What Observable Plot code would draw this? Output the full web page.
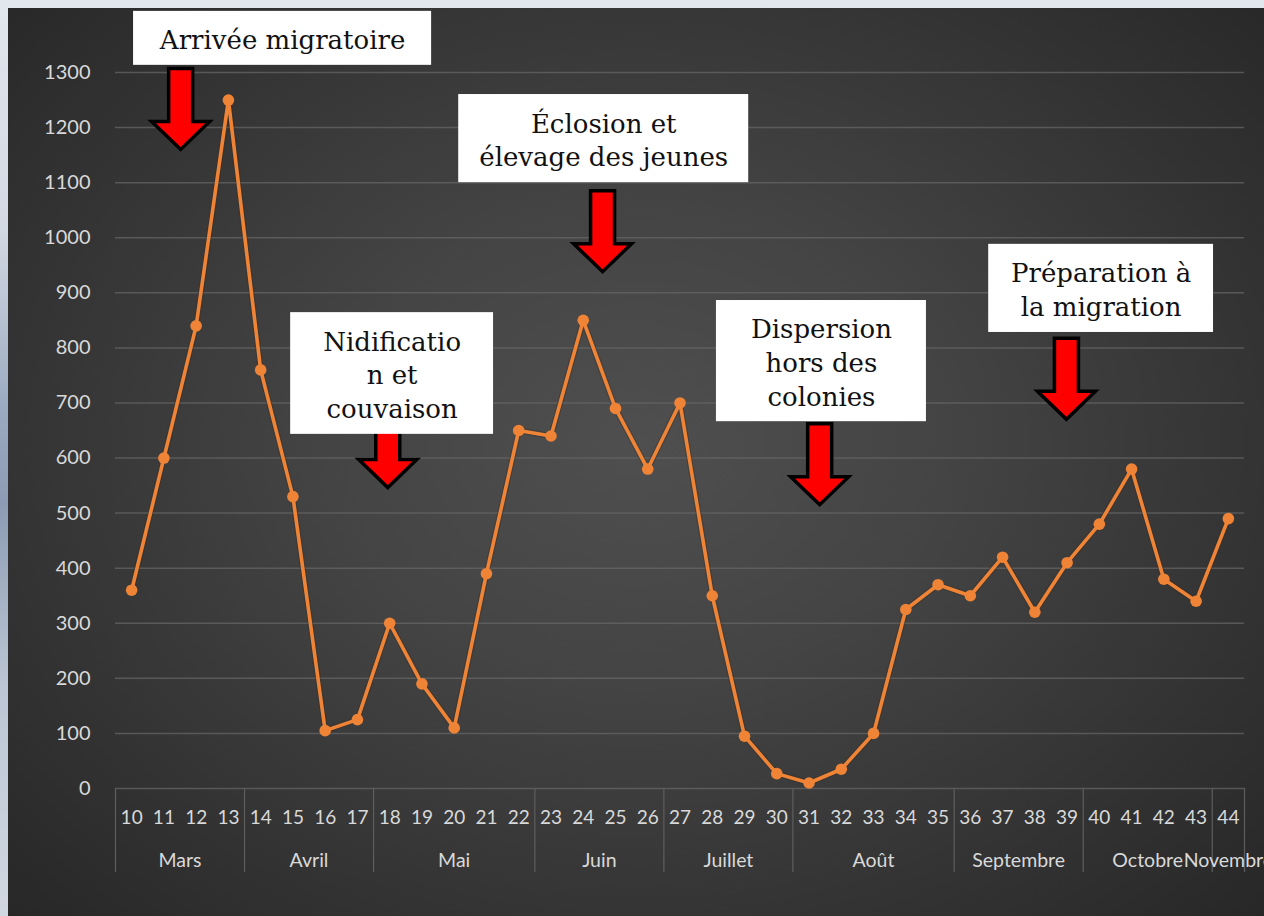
<!DOCTYPE html>
<html>
<head>
<meta charset="utf-8">
<script src="https://cdn.jsdelivr.net/npm/d3@7"></script>
<script src="https://cdn.jsdelivr.net/npm/@observablehq/plot@0.6"></script>
<style>
  html, body { margin: 0; padding: 0; width: 1264px; height: 916px; overflow: hidden; }
  body { background: linear-gradient(180deg, #e2e6ed 0%, #d3d9e3 25%, #9aa9c0 45%, #8d9cb4 55%, #bcc6d4 75%, #d0d7e1 100%); position: relative; }
  #panel { position: absolute; left: 8px; top: 8px; right: 0; bottom: 0;
    background: radial-gradient(ellipse 70% 75% at 50% 48%, #4f4f4f 0%, #444 35%, #343434 70%, #272727 100%); }
  #chart { position: absolute; left: 0; top: 0; }
</style>
</head>
<body>
<div id="panel"></div>
<div id="chart"></div>
<script>
// ---- data ----
const weeks  = [10,11,12,13,14,15,16,17,18,19,20,21,22,23,24,25,26,27,28,29,30,31,32,33,34,35,36,37,38,39,40,41,42,43,44];
const counts = [360,600,840,1250,760,530,105,125,300,190,110,390,650,640,850,690,580,700,350,95,27,10,35,100,325,370,350,420,320,410,480,580,380,340,490];
const yTicks = [0,100,200,300,400,500,600,700,800,900,1000,1100,1200,1300];
const monthNames = ["Mars","Avril","Mai","Juin","Juillet","Août","Septembre","Octobre","Novembre"];
const monthStart = [10,14,18,23,27,31,36,40,44];
const monthEnd   = [13,17,22,26,30,35,39,43,44];

// annotations (boxes in week/value units)
const annLabels = ["Arrivée migratoire", "Éclosion et\nélevage des jeunes", "Nidificatio\nn et\ncouvaison", "Dispersion\nhors des\ncolonies", "Préparation à\nla migration"];
const annX1 = [10.06, 20.14, 14.93, 28.13, 36.57];
const annX2 = [19.30, 29.13, 21.22, 34.64, 43.54];
const annY1 = [1313, 1100, 643, 666, 828];
const annY2 = [1411, 1260, 864, 886, 988];
const arrowWeek  = [11.52, 24.60, 17.94, 31.33, 38.98];
const arrowValue = [1233, 1011, 619, 588, 743];

// ---- derived tables ----
const series = weeks.map((w, i) => ({week: w, count: counts[i]}));
const months = monthNames.map((m, i) => ({name: m, mid: (monthStart[i] + monthEnd[i]) / 2}));
const bounds = monthStart.map(s => s - 0.5).concat([monthEnd[monthEnd.length - 1] + 0.5]);
const anns = annLabels.map((t, i) => ({label: t, x1: annX1[i], x2: annX2[i], y1: annY1[i], y2: annY2[i]}));
const arrows = arrowWeek.map((w, i) => ({week: w, value: arrowValue[i]}));

const W = 1264, H = 916, mT = 72, mB = 128, mL = 115, mR = 20;
const unitsPerPx = 1300 / (H - mT - mB);
const sepDepth = -84 * unitsPerPx;

const arrowSymbol = {
  draw(ctx) {
    ctx.moveTo(-12, -41);
    ctx.lineTo(12, -41);
    ctx.lineTo(12, 12);
    ctx.lineTo(29, 12);
    ctx.lineTo(0, 40);
    ctx.lineTo(-29, 12);
    ctx.lineTo(-12, 12);
    ctx.closePath();
  }
};

const lbl = "#d9d9d9";
const chart = Plot.plot({
  width: W, height: H,
  marginTop: mT, marginBottom: mB, marginLeft: mL, marginRight: mR,
  style: {background: "transparent", fontFamily: "Lato, 'Open Sans', sans-serif"},
  x: {type: "linear", domain: [9.5, 44.5], axis: null},
  y: {domain: [0, 1300], axis: null},
  marks: [
    Plot.ruleY(yTicks, {stroke: "#686868", strokeWidth: 1.5, strokeOpacity: 0.7}),
    Plot.ruleX(bounds, {x: d => d, y1: 0, y2: sepDepth, stroke: "#5e5e5e", strokeWidth: 1.2}),
    Plot.line(series, {x: "week", y: "count", stroke: "#3a2a20", strokeWidth: 6, strokeOpacity: 0.35, strokeLinejoin: "round"}),
    Plot.line(series, {x: "week", y: "count", stroke: "#ef8437", strokeWidth: 3.6, strokeLinejoin: "round"}),
    Plot.dot(series, {x: "week", y: "count", r: 5.8, fill: "#ef8437"}),
    Plot.text(yTicks, {x: 9.5, y: d => d, text: d => String(d), textAnchor: "end", dx: -25, fontSize: 20, fill: lbl}),
    Plot.text(weeks, {x: d => d, y: 0, text: d => String(d), dy: 29, fontSize: 19, fill: lbl}),
    Plot.text(months, {x: "mid", y: 0, text: "name", dy: 72, fontSize: 19.5, fill: lbl}),
    Plot.dot(arrows, {x: "week", y: "value", symbol: arrowSymbol, fill: "#ff0000", stroke: "#000", strokeWidth: 3.5}),
    Plot.rect(anns, {x1: "x1", x2: "x2", y1: "y1", y2: "y2", fill: "#ffffff"}),
    Plot.text(anns, {x: d => (d.x1 + d.x2) / 2, y: d => (d.y1 + d.y2) / 2, text: "label", lineAnchor: "middle",
      lineHeight: 1.3, fontSize: 26, fontFamily: "'DejaVu Serif', serif", fill: "#111", letterSpacing: "-0.8px"})
  ]
});
document.getElementById("chart").appendChild(chart);
</script>
</body>
</html>
